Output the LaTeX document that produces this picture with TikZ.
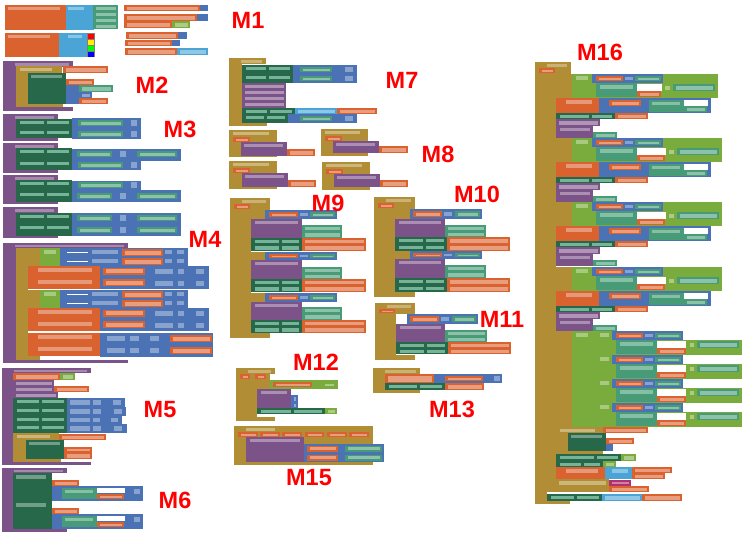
\documentclass[tikz,border=0pt]{standalone}
\usepackage{fontspec}
\setmainfont{Liberation Sans}
\usepackage{xcolor}
\definecolor{blkorange}{HTML}{D9622F}
\definecolor{blkblue}{HTML}{4A72B5}
\definecolor{blkgreen}{HTML}{27684A}
\definecolor{blkpurple}{HTML}{7C5388}
\definecolor{blkgold}{HTML}{B18E35}
\definecolor{blklime}{HTML}{79AC3C}
\definecolor{blkteal}{HTML}{479B76}
\definecolor{blksky}{HTML}{4AA5D6}
\definecolor{blkpink}{HTML}{B3306F}
% plain block and block with a pale field inside, pixel coordinates
\newcommand{\blk}[5]{\fill[#1] ({#2},{#3}) rectangle ({#4},{#5});}
\newcommand{\fblk}[5]{\fill[#1] ({#2},{#3}) rectangle ({#4},{#5});
  \fill[#1!62!white] ({(#2)+3},{(#3)+1.5}) rectangle ({(#4)-2},{(#5)-1.5});}
% pale field alone
\newcommand{\fld}[5]{\fill[#1!65!white] ({#2},{#3}) rectangle ({#4},{#5});}
% green setter row with two fields
\newcommand{\srow}[5]{\fill[blkgreen] ({#1},{#2}) rectangle ({#3},{#4});
  \fill[blkteal!75!white] ({(#1)+4},{(#2)+1.5}) rectangle ({(#5)-1},{(#2)+5});
  \fill[blkteal!75!white] ({(#5)+1.5},{(#2)+1.5}) rectangle ({(#3)-3},{(#2)+5});}
% header of a procedure or event
\newcommand{\hdr}[5]{\fill[#1] ({#2},{#3}) rectangle ({#4},{#5});
  \fill[#1!68!white] ({(#2)+12},{(#3)+1.5}) rectangle ({(#4)-4},{(#5)-1.5});}
% blue arithmetic row with one expression and a number
\newcommand{\onerow}[3]{\blk{blkblue}{72}{#1}{141}{#2}\fblk{blkteal}{78}{#3}{123}{#3+6}\fld{blkblue}{131}{#3}{137}{#3+6}}
\newcommand{\tworow}[3]{\blk{blkblue}{72}{#1}{181}{#2}\fblk{blkteal}{77}{#3}{112}{#3+6}\fld{blkblue}{120}{#3}{126}{#3+6}\fblk{blkteal}{137}{#3}{177}{#3+6}}
\begin{document}
\begin{tikzpicture}[
  x=1pt, y=-1pt,
  lab/.style={font=\fontsize{23.5}{23.5}\selectfont\bfseries, text=red, inner sep=0pt}
]
\useasboundingbox (0,0) rectangle (749,536);
% M1
\blk{blkorange}{5}{5}{66}{30}
\fld{blkorange}{8}{6.5}{60}{10}
\blk{blksky}{66}{5}{94}{30}
\fld{blksky}{68}{6.5}{84}{10}
\foreach \ya in {5,11,17,23} {\fblk{blkteal}{93}{\ya}{118}{\ya+6}}
\blk{blkorange}{5}{33}{59}{57}
\fld{blkorange}{8}{34.5}{50}{38}
\blk{blksky}{59}{33}{87}{57}
\fld{blksky}{68}{34.5}{82}{38}
\blk{gray}{87}{33}{95}{57}
\blk{red}{88}{34}{94}{39}
\blk{yellow}{88}{40}{94}{45}
\blk{green}{88}{46}{94}{51}
\blk{blue}{88}{52}{94}{57}
\fblk{blkorange}{124}{5}{200}{11}\blk{blkblue}{200}{5}{208}{11}
\fblk{blkorange}{124}{14}{197}{21}\blk{blkblue}{197}{14}{208}{21}
\fblk{blkorange}{124}{21}{172}{28}\fblk{blklime}{172}{21}{190}{28}
\fblk{blkorange}{126}{32}{178}{39}\blk{blkblue}{178}{32}{187}{39}
\fblk{blkorange}{125}{40}{172}{46}\blk{blkblue}{172}{40}{180}{46}
\fblk{blkorange}{125}{48}{177}{55}\fblk{blksky}{177}{48}{208}{55}
% M2
\hdr{blkpurple}{3}{61}{73}{67}
\blk{blkpurple}{3}{67}{16}{107}\blk{blkpurple}{3}{107}{73}{111}
\blk{blkgold}{16}{66}{62}{73}\blk{blkgold}{16}{73}{28}{104}\blk{blkgold}{16}{104}{63}{107}
\fld{blkgold}{20}{68}{52}{71}
\fblk{blkorange}{63}{66}{108}{73}
\blk{blkgreen}{28}{73}{66}{104}
\fld{blkgreen}{31}{74.5}{62}{78}
\fblk{blkorange}{66}{79}{94}{85}
\blk{blkblue}{66}{85}{79}{104}
\fblk{blkteal}{79}{85}{113}{92}
\fblk{blkblue}{79}{92}{92}{98}
\fblk{blkorange}{79}{98}{108}{104}
% M3
\foreach \ya/\yb in {114/141,143/173,175/204,207/238} {
  \hdr{blkpurple}{3}{\ya}{58}{\ya+6}
  \blk{blkpurple}{3}{\ya+6}{16}{\yb}
  \blk{blkpurple}{3}{\yb-3}{58}{\yb}
}
\srow{16}{119}{72}{129}{45}\srow{16}{129}{72}{138}{45}
\onerow{118}{129}{120}\onerow{129}{139}{131}
\srow{16}{148}{72}{160}{45}\srow{16}{160}{72}{170}{45}
\tworow{149}{161}{151}\onerow{161}{170}{162}
\srow{16}{180}{72}{191}{45}\srow{16}{191}{72}{202}{45}
\onerow{181}{190}{182}\tworow{190}{202}{193}
\srow{16}{213}{72}{224}{45}\srow{16}{224}{72}{236}{45}
\tworow{213}{224}{215}\tworow{224}{236}{227}
% M4
\hdr{blkpurple}{3}{243}{128}{248}
\blk{blkpurple}{3}{248}{16}{363}\blk{blkpurple}{3}{360}{128}{363}
\blk{blkgold}{16}{248}{28}{360}\blk{blkgold}{16}{248}{40}{266}\blk{blkgold}{16}{290}{40}{308}\blk{blkgold}{16}{356}{40}{360}
\foreach \ya in {248,290} {
  \blk{blklime}{40}{\ya}{60}{\ya+18}\fld{blklime}{44}{\ya+2}{56}{\ya+6}
  \foreach \yc in {0,9} {
    \blk{blkblue}{60}{\ya+\yc}{188}{\ya+\yc+9}
    \blk{white}{67}{\ya+\yc+3.5}{88}{\ya+\yc+4.5}
    \fld{blkblue}{92}{\ya+\yc+2}{118}{\ya+\yc+6}
    \fblk{blkorange}{122}{\ya+\yc+1}{163}{\ya+\yc+8}
    \fld{blkblue}{165}{\ya+\yc+2}{172}{\ya+\yc+6}
    \fld{blkblue}{177}{\ya+\yc+2}{184}{\ya+\yc+6}
  }
}
\foreach \ya in {266,308} {
  \blk{blkorange}{28}{\ya}{100}{\ya+23}
  \foreach \yc in {0,11.5} {
    \fld{blkorange}{38}{\ya+\yc+2}{92}{\ya+\yc+6}
    \blk{blkblue}{100}{\ya+\yc}{209}{\ya+\yc+11.5}
    \fblk{blkorange}{103}{\ya+\yc+1.5}{145}{\ya+\yc+8.5}
    \fld{blkblue}{155}{\ya+\yc+3}{173}{\ya+\yc+8}
    \fld{blkblue}{178}{\ya+\yc+3}{184}{\ya+\yc+8}
    \fld{blkblue}{196}{\ya+\yc+3}{204}{\ya+\yc+8}
  }
}
\blk{blkorange}{28}{333}{100}{356}
\foreach \yc in {333,345} {
  \fld{blkorange}{38}{\yc+2}{92}{\yc+6}
  \blk{blkblue}{100}{\yc}{213}{\yc+12}
  \fld{blkblue}{107}{\yc+3}{125}{\yc+8}
  \fld{blkblue}{130}{\yc+3}{139}{\yc+8}
  \fld{blkblue}{150}{\yc+3}{159}{\yc+8}
  \fblk{blkorange}{170}{\yc+2}{212}{\yc+9}
}
% M5
\hdr{blkpurple}{2}{368}{91}{373}
\blk{blkpurple}{2}{373}{13}{465}\blk{blkpurple}{2}{462}{91}{465}
\fblk{blkorange}{13}{373}{60}{380}\fblk{blklime}{60}{373}{75}{380}
\fblk{blkpurple}{13}{380}{54}{386}\fblk{blkpurple}{13}{386}{54}{392}\fblk{blkorange}{54}{386}{89}{392}
\fblk{blkpurple}{13}{392}{58}{398}
\srow{13}{398}{67}{407}{40}\blk{blkblue}{67}{398}{125}{407}\fld{blkblue}{70}{400}{90}{405}\fld{blkblue}{93}{400}{101}{405}\fld{blkblue}{113}{400}{121}{405}
\srow{13}{407}{67}{416}{40}\blk{blkblue}{67}{407}{126}{416}\fld{blkblue}{70}{409}{90}{414}\fld{blkblue}{93}{409}{101}{414}\fld{blkblue}{114}{409}{122}{414}
\srow{13}{416}{67}{424}{40}\blk{blkblue}{67}{416}{122}{424}\fld{blkblue}{70}{418}{90}{422}\fld{blkblue}{93}{418}{100}{422}\fld{blkblue}{111}{418}{118}{422}
\srow{13}{424}{67}{433}{40}\blk{blkblue}{67}{424}{127}{433}\fld{blkblue}{70}{426}{90}{431}\fld{blkblue}{93}{426}{101}{431}\fld{blkblue}{114}{426}{122}{431}
\blk{blkgold}{13}{433}{26}{462}\blk{blkgold}{13}{433}{59}{440}\blk{blkgold}{13}{459}{61}{462}
\fld{blkgold}{17}{435}{50}{438}
\fblk{blkorange}{59}{434}{106}{440}
\blk{blkgreen}{26}{440}{64}{459}\fld{blkgreen}{29}{441.5}{60}{445}
\fblk{blkorange}{64}{447}{92}{452}\fblk{blkorange}{64}{452}{92}{459}
% M6
\hdr{blkpurple}{2}{468}{67}{473}
\blk{blkpurple}{2}{473}{13}{532}\blk{blkpurple}{2}{528}{67}{532}
\foreach \ya in {473,501} {
  \blk{blkgreen}{13}{\ya}{52}{\ya+28}\fld{blkgreen}{16}{\ya+2}{46}{\ya+6}
  \fblk{blkorange}{52}{\ya+7}{79}{\ya+13}
  \blk{blkblue}{52}{\ya+13}{143}{\ya+28}
  \blk{blkteal}{62}{\ya+15}{97}{\ya+26}\fld{blkteal}{65}{\ya+16.5}{93}{\ya+20}
  \blk{white}{97}{\ya+15}{125}{\ya+20}
  \fblk{blkorange}{97}{\ya+21}{124}{\ya+26}
  \fld{blkblue}{134}{\ya+16}{140}{\ya+21}
}
% M7
\hdr{blkgold}{229}{58}{266}{64}
\blk{blkgold}{229}{64}{242}{126}\blk{blkgold}{229}{123}{267}{126}
\srow{242}{65}{293}{74}{267}\srow{242}{74}{293}{83}{267}
\foreach \ya in {65,74} {
  \blk{blkblue}{293}{\ya}{357}{\ya+9}
  \fblk{blkteal}{300}{\ya+2}{332}{\ya+7}\fld{blkblue}{345}{\ya+2}{353}{\ya+7}
}
\foreach \ya in {83,89,95,101} {\fblk{blkpurple}{242}{\ya}{286}{\ya+6.5}}
\srow{242}{108}{295}{114}{268}\fblk{blksky}{295}{108}{337}{114}\fblk{blkorange}{337}{108}{377}{114}
\srow{242}{114}{288}{123}{265}\blk{blkblue}{288}{114}{357}{123}
\fblk{blkteal}{300}{116}{332}{121}\fld{blkblue}{345}{116}{353}{121}
% M8
\foreach \xa/\ya/\xe/\yb/\xp/\xq/\yp/\yq/\xo in {229/130/277/157/241/287/142/156/315,321/129/368/156/333/379/141/153/408,229/161/277/189/242/288/173/187/316,322/162/370/190/334/380/174/187/408} {
  \blk{blkgold}{\xa}{\ya}{\xe}{\yb}
  \fld{blkgold}{\xa+4}{\ya+2}{\xe-8}{\ya+5}
  \fblk{blkorange}{\xa+4}{\ya+7}{\xa+21}{\ya+12}
  \blk{blkpurple}{\xp}{\yp}{\xq}{\yq}
  \fld{blkpurple}{\xp+3}{\yp+1.5}{\xq-4}{\yp+5}
  \fblk{blkorange}{\xq}{\yq-7}{\xo}{\yq}
}
% M9
\hdr{blkgold}{230}{198}{270}{204}
\blk{blkgold}{230}{204}{242}{338}\blk{blkgold}{230}{204}{270}{210}\blk{blkgold}{230}{333}{270}{338}
\blk{blkgold}{242}{210}{251}{333}\fblk{blkorange}{234}{204}{250}{209}
\foreach \ya/\yb/\yc/\yd in {210/219/225/238,252/260/267/279,293/302/307/320} {
  \blk{blkgold}{242}{\ya}{265}{\yb}
  \blk{blkblue}{265}{\ya}{337}{\yb}\fblk{blkorange}{269}{\ya+2}{298}{\yb-2}
  \fld{blkblue}{300}{\ya+3}{308}{\yb-3}\fblk{blkteal}{310}{\ya+2}{335}{\yb-2}
  \blk{blkpurple}{251}{\yb}{302}{\yd}\fld{blkpurple}{255}{\yb+1.5}{298}{\yb+5}
  \fblk{blkteal}{302}{\yc}{342}{\yc+6.5}\fblk{blkteal}{302}{\yc+6.5}{342}{\yd}
  \srow{251}{\yd}{302}{\yd+6.5}{280}\srow{251}{\yd+6.5}{302}{\yd+13}{280}
  \fblk{blkorange}{302}{\yd}{366}{\yd+6.5}\fblk{blkorange}{302}{\yd+6.5}{366}{\yd+13}
}
% M10
\hdr{blkgold}{374}{197}{415}{203}
\blk{blkgold}{374}{203}{386}{297}\blk{blkgold}{374}{203}{415}{209}\blk{blkgold}{374}{292}{415}{297}
\blk{blkgold}{386}{209}{395}{292}\fblk{blkorange}{378}{203}{394}{208}
\foreach \ya/\yb/\yc/\yd in {209/219/225/237,251/259/265/278} {
  \blk{blkgold}{386}{\ya}{410}{\yb}
  \blk{blkblue}{410}{\ya}{482}{\yb}\fblk{blkorange}{413}{\ya+2}{442}{\yb-2}
  \fld{blkblue}{444}{\ya+3}{452}{\yb-3}\fblk{blkteal}{455}{\ya+2}{480}{\yb-2}
  \blk{blkpurple}{395}{\yb}{445}{\yd}\fld{blkpurple}{399}{\yb+1.5}{441}{\yb+5}
  \fblk{blkteal}{445}{\yc}{486}{\yc+6.5}\fblk{blkteal}{445}{\yc+6.5}{486}{\yd}
  \srow{395}{\yd}{447}{\yd+7}{424}\srow{395}{\yd+7}{447}{\yd+14}{424}
  \fblk{blkorange}{447}{\yd}{510}{\yd+7}\fblk{blkorange}{447}{\yd+7}{510}{\yd+14}
}
% M11
\hdr{blkgold}{375}{303}{415}{309}
\blk{blkgold}{375}{309}{387}{360}\blk{blkgold}{375}{309}{415}{314}\blk{blkgold}{375}{355}{415}{360}
\blk{blkgold}{387}{314}{396}{355}\fblk{blkorange}{379}{309}{395}{313}
\blk{blkblue}{407}{314}{478}{324}\fblk{blkorange}{410}{316}{439}{322}
\fld{blkblue}{441}{317}{449}{321}\fblk{blkteal}{452}{316}{476}{322}
\blk{blkpurple}{396}{324}{445}{342}\fld{blkpurple}{400}{325.5}{441}{329}
\fblk{blkteal}{445}{330}{487}{336}\fblk{blkteal}{445}{336}{487}{342}
\srow{396}{342}{448}{348}{425}\srow{396}{348}{448}{354}{425}
\fblk{blkorange}{448}{342}{511}{348}\fblk{blkorange}{448}{348}{511}{354}
% M12
\hdr{blkgold}{236}{368}{275}{374}
\blk{blkgold}{236}{374}{249}{421}\blk{blkgold}{236}{374}{270}{389}\blk{blkgold}{236}{417}{275}{421}
\blk{blkgold}{249}{389}{257}{417}\fblk{blkorange}{240}{374}{250}{379}\fblk{blkorange}{255}{374}{266}{379}
\blk{blklime}{270}{380}{338}{389}\fblk{blkorange}{273}{382}{312}{387}\fblk{blklime}{322}{382}{336}{387}
\blk{blkpurple}{257}{389}{291}{408}\fld{blkpurple}{261}{390.5}{287}{394}
\fblk{blkblue}{291}{395}{298}{402}\fblk{blkblue}{291}{402}{298}{408}
\srow{257}{408}{325}{414}{292}\fblk{blklime}{325}{408}{337}{414}
% M13
\hdr{blkgold}{373}{368}{420}{374}
\blk{blkgold}{373}{374}{385}{393}\blk{blkgold}{373}{390}{420}{393}
\fblk{blkorange}{385}{374}{434}{383}\blk{blkblue}{434}{374}{502}{383}
\fblk{blkorange}{445}{376}{483}{381}\fld{blkblue}{494}{376}{500}{381}
\srow{385}{383}{445}{390}{418}\fblk{blkorange}{445}{383}{484}{390}
% M15
\blk{blkgold}{234}{426}{373}{465}
\fld{blkgold}{246}{427.5}{275}{431}
\foreach \xa/\xb in {238/258,260/280,282/302,305/324,327/347,349/369} {\fblk{blkorange}{\xa}{432}{\xb}{437}}
\blk{blkpurple}{246}{437}{304}{462}\fld{blkpurple}{250}{438.5}{300}{442}
\foreach \ya in {444,453} {
  \blk{blkblue}{304}{\ya}{384}{\ya+9}
  \fblk{blkorange}{307}{\ya+1.5}{338}{\ya+7.5}\fblk{blkteal}{345}{\ya+1.5}{382}{\ya+7.5}
}
% M16
\hdr{blkgold}{535}{62}{571}{68}
\blk{blkgold}{535}{68}{547}{504}\blk{blkgold}{535}{68}{571}{74}\blk{blkgold}{535}{500}{570}{504}
\fblk{blkorange}{539}{68}{555}{73}
\blk{blkgold}{547}{74}{556}{492}\blk{blkgold}{556}{488}{572}{492}
\foreach \ys/\xe in {74/718,138/722,202/722,267/722} {
  \blk{blkgold}{547}{\ys}{572}{\ys+24}
  \blk{blklime}{572}{\ys}{\xe}{\ys+24}
  \fld{blklime}{576}{\ys+2}{588}{\ys+6}
  \blk{blkblue}{592}{\ys}{663}{\ys+9}\fblk{blkorange}{596}{\ys+2}{623}{\ys+7}
  \fld{blkblue}{625}{\ys+3}{633}{\ys+6}\fblk{blkteal}{635}{\ys+2}{661}{\ys+7}
  \blk{blkteal}{596}{\ys+9}{637}{\ys+23}\fld{blkteal}{600}{\ys+11}{633}{\ys+15}
  \blk{white}{637}{\ys+10}{\xe-56}{\ys+17}
  \fblk{blkorange}{637}{\ys+17}{\xe-57}{\ys+23}
  \fblk{blklime}{\xe-56}{\ys+10}{\xe-46}{\ys+17}
  \fblk{blkteal}{\xe-45}{\ys+10}{\xe-3}{\ys+17}
  % row below the test
  \blk{blkorange}{556}{\ys+24}{599}{\ys+39}\fld{blkorange}{566}{\ys+26}{592}{\ys+30}
  \blk{blkblue}{599}{\ys+24}{711}{\ys+39}
  \fblk{blkorange}{609}{\ys+26}{641}{\ys+32}
  \blk{blkteal}{649}{\ys+26}{684}{\ys+38}\fld{blkteal}{652}{\ys+27.5}{680}{\ys+31}
  \blk{white}{684}{\ys+26}{708}{\ys+32}\fblk{blkteal}{684}{\ys+32}{707}{\ys+38}
  \srow{556}{\ys+39}{615}{\ys+45}{590}\fblk{blkorange}{615}{\ys+39}{648}{\ys+45}
  \fblk{blkpurple}{556}{\ys+45}{600}{\ys+52}
  \blk{blkpurple}{556}{\ys+52}{593}{\ys+64}\fld{blkpurple}{560}{\ys+53.5}{590}{\ys+57}
  \fblk{blkteal}{593}{\ys+58}{617}{\ys+64}
}
\blk{blkgold}{547}{331}{572}{427}
\blk{blklime}{572}{331}{592}{427}\fld{blklime}{576}{333}{588}{337}
\foreach \ys in {331,355,379,403} {
  \blk{blklime}{592}{\ys}{612}{\ys+9}\fld{blklime}{600}{\ys+2}{609}{\ys+6}
  \blk{blkblue}{612}{\ys}{683}{\ys+9}\fblk{blkorange}{616}{\ys+2}{643}{\ys+7}
  \fld{blkblue}{645}{\ys+3}{653}{\ys+6}\fblk{blkteal}{655}{\ys+2}{681}{\ys+7}
  \blk{blklime}{592}{\ys+9}{742}{\ys+24}
  \blk{blkteal}{616}{\ys+9}{657}{\ys+23}\fld{blkteal}{620}{\ys+11}{653}{\ys+15}
  \blk{white}{657}{\ys+10}{686}{\ys+17}\fblk{blkorange}{657}{\ys+17}{686}{\ys+23}
  \fblk{blklime}{687}{\ys+10}{696}{\ys+17}\fblk{blkteal}{697}{\ys+10}{739}{\ys+17}
}
\blk{blkgold}{556}{427}{603}{433}\blk{blkgold}{556}{433}{568}{454}\blk{blkgold}{556}{451}{603}{454}
\fld{blkgold}{560}{429}{595}{432}
\fblk{blkorange}{603}{427}{648}{433}
\blk{blkgreen}{568}{433}{606}{451}\fld{blkgreen}{571}{434.5}{602}{438}
\fblk{blkorange}{606}{438}{634}{444}\blk{blkblue}{606}{444}{613}{451}
\srow{556}{454}{621}{461}{595}\fblk{blklime}{621}{454}{636}{461}
\srow{556}{461}{603}{467}{582}\fblk{blklime}{603}{461}{616}{467}
\blk{blkorange}{556}{467}{605}{479}\fld{blkorange}{566}{469}{598}{473}
\blk{blksky}{605}{467}{632}{479}\fld{blksky}{612}{469}{628}{473}
\fblk{blkorange}{632}{467}{672}{473}\fblk{blkorange}{632}{473}{665}{479}
\blk{blkgold}{556}{479}{609}{492}\fld{blkgold}{559}{481}{606}{485}
\fblk{blkpink}{609}{480}{631}{485.5}\fblk{blkorange}{609}{486}{649}{492}
\srow{547}{494}{602}{501}{575}\fblk{blksky}{602}{494}{642}{501}\fblk{blkorange}{642}{494}{682}{501}
% labels
\node[lab] (m1) at (248,20) {M1};
\node[lab] (m2) at (152,85) {M2};
\node[lab] (m3) at (180,129) {M3};
\node[lab] (m4) at (205,239) {M4};
\node[lab] (m5) at (160,410) {M5};
\node[lab] (m6) at (175,500) {M6};
\node[lab] (m7) at (402,80) {M7};
\node[lab] (m8) at (438,154) {M8};
\node[lab] (m9) at (328,203) {M9};
\node[lab] (m10) at (477,194) {M10};
\node[lab] (m11) at (502,319) {M11};
\node[lab] (m12) at (316,362) {M12};
\node[lab] (m13) at (452,409) {M13};
\node[lab] (m15) at (309,478) {M15};
\node[lab] (m16) at (600,52) {M16};
\end{tikzpicture}
\end{document}
